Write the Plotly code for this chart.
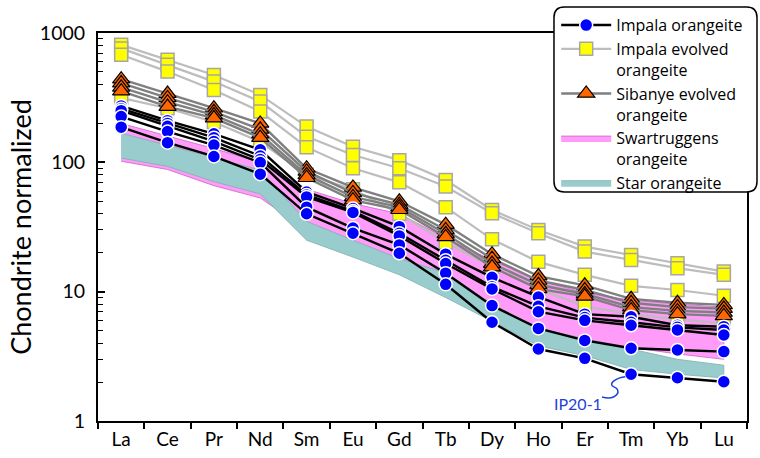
import plotly.graph_objects as go

# Rare earth elements (x axis)
elements = ["La", "Ce", "Pr", "Nd", "Sm", "Eu", "Gd", "Tb", "Dy", "Ho", "Er", "Tm", "Yb", "Lu"]

# Chondrite-normalised REE, Impala orangeite samples
impala_1 = [273, 210, 166, 125, 59, 44, 31.8, 19.5, 12.9, 9.1, 6.7, 6.4, 5.5, 5.36]
impala_2 = [260, 200, 155, 112, 56, 42, 28.3, 17.5, 10.9, 7.7, 6.3, 5.8, 5.3, 5.05]
impala_3 = [251, 190, 145, 105, 54, 41, 27, 16.5, 10.5, 7.0, 6.0, 5.5, 5.06, 4.62]
impala_4 = [226, 173, 136, 99.6, 45, 31, 23, 13.9, 7.8, 5.2, 4.2, 3.65, 3.54, 3.44]
ip20_1 = [187, 142, 111, 81, 40, 28.3, 19.8, 11.4, 5.8, 3.6, 3.05, 2.3, 2.16, 2.01]

# Impala evolved orangeite samples
evolved_1 = [810, 620, 474, 332, 189, 132, 104, 73, 42.8, 30, 22.3, 19.2, 16.6, 14.3]
evolved_2 = [760, 567, 421, 295, 158, 114, 90, 65, 40.4, 28.3, 20.4, 17.6, 15.2, 13.5]
evolved_3 = [680, 503, 363, 247, 131, 90, 70, 45, 25.4, 17, 13.5, 11.1, 10.3, 9.3]
evolved_4 = [315, 262, 205, 144, 80, 62, 40, 24, 15.6, 10.5, 7.7, 6.7, 6.1, 5.7]

# Sibanye evolved orangeite samples
sibanye_1 = [440, 340, 262, 200, 90, 64, 50, 33, 19.5, 13.2, 11.2, 8.8, 8.2, 7.9]
sibanye_2 = [410, 315, 246, 180, 85, 58, 47, 30, 18, 12.2, 10.3, 8.2, 7.6, 7.4]
sibanye_3 = [380, 292, 232, 165, 80, 54, 45, 28, 16.5, 11.3, 9.6, 7.6, 7.1, 6.9]
sibanye_4 = [355, 270, 220, 155, 76, 51, 43, 26.5, 15.5, 10.5, 9.2, 7.2, 6.7, 6.5]

# Compositional fields (upper / lower envelopes)
swart_upper = [200, 160, 128, 100, 62, 48, 40, 26, 17.5, 12.3, 9.8, 8.6, 8.0, 7.6]
swart_lower = [102, 88, 66, 53, 30, 22, 16, 11, 6.8, 5.2, 4.3, 3.7, 3.3, 3.0]
star_upper = [168, 136, 109, 87, 35, 25, 18, 14, 8.0, 5.2, 4.3, 3.6, 3.0, 2.7]
star_lower = [108, 93, 71, 57, 25, 18.5, 13.5, 9.0, 5.9, 3.8, 3.2, 2.5, 2.3, 2.15]

y_ticks = [1, 10, 100, 1000]
y_minor = [m * d for d in (1, 10, 100) for m in range(2, 10)]

FONT = "Lato"
fig = go.Figure()


def band(name, upper, lower, fill, edge, rank):
    fig.add_trace(go.Scatter(
        x=elements + elements[::-1], y=upper + lower[::-1],
        mode="lines", fill="toself", fillcolor=fill,
        line=dict(color=edge, width=0.8),
        name=name, legendrank=rank, hoverinfo="skip"))


band("Swartruggens<br>orangeite", swart_upper, swart_lower, "#FF9BF8", "#C865C8", 4)
band("Star orangeite", star_upper, star_lower, "#99CCCC", "#7FAFAF", 5)


def series(samples, name, line_color, lw, marker, rank):
    for i, ys in enumerate(samples):
        fig.add_trace(go.Scatter(
            x=elements, y=ys, mode="lines+markers",
            line=dict(color=line_color, width=lw),
            marker=marker, name=name, legendgroup=name,
            showlegend=(i == 0), legendrank=rank))


series([evolved_1, evolved_2, evolved_3, evolved_4], "Impala evolved<br>orangeite",
       "#BDBDBD", 2.2,
       dict(symbol="square", size=13, color="#FFFF00", line=dict(color="#A6A6A6", width=1.5)), 2)
series([sibanye_1, sibanye_2, sibanye_3, sibanye_4], "Sibanye evolved<br>orangeite",
       "#7F7F7F", 2.4,
       dict(symbol="triangle-up", size=15, color="#FF6600", line=dict(color="#000000", width=1.2)), 3)
series([impala_1, impala_2, impala_3, impala_4, ip20_1], "Impala orangeite",
       "#000000", 2.4,
       dict(symbol="circle", size=13, color="#0000FF", line=dict(color="#FFFFFF", width=1.5)), 1)

# Label for sample IP20-1 with a wavy leader
fig.add_annotation(x=0.7396, y=0.046, xref="paper", yref="paper", text="IP20-1",
                   xanchor="center", yanchor="middle", showarrow=False,
                   font=dict(family=FONT, size=16, color="#1E3FD8"))
fig.add_shape(type="path", xref="paper", yref="paper",
              path="M 0.7766,0.062 C 0.800,0.052 0.808,0.080 0.795,0.088 "
                   "C 0.784,0.096 0.800,0.112 0.8125,0.114",
              line=dict(color="#1E3FD8", width=1.5))

# Rounded legend frame
x0, x1, y0, y1 = 0.7026, 1.0154, 0.590, 1.067
rx, ry = 0.016, 0.027
fig.add_shape(type="path", xref="paper", yref="paper", layer="above",
              path=(f"M {x0+rx},{y1} L {x1-rx},{y1} Q {x1},{y1} {x1},{y1-ry} "
                    f"L {x1},{y0+ry} Q {x1},{y0} {x1-rx},{y0} L {x0+rx},{y0} "
                    f"Q {x0},{y0} {x0},{y0+ry} L {x0},{y1-ry} Q {x0},{y1} {x0+rx},{y1} Z"),
              fillcolor="white", line=dict(color="black", width=1.5))

fig.update_layout(
    width=760, height=458,
    margin=dict(l=98, r=13, t=33, b=37, autoexpand=False),
    paper_bgcolor="white", plot_bgcolor="white",
    font=dict(family=FONT, size=19, color="black"),
    legend=dict(x=0.706, y=1.064, xanchor="left", yanchor="top",
                bgcolor="rgba(0,0,0,0)", borderwidth=0,
                font=dict(family="Open Sans", size=16), valign="top",
                tracegroupgap=0, itemwidth=50),
    showlegend=True,
)
fig.update_xaxes(type="category", range=[-0.5, 13.5], tickson="boundaries",
                 ticks="outside", ticklen=6, tickwidth=1.5, tickcolor="black",
                 showline=True, linecolor="black", linewidth=2, mirror=True,
                 showgrid=False, zeroline=False, automargin=False, tickfont=dict(size=19))
fig.update_yaxes(type="log", range=[0, 3], tickvals=y_ticks, ticktext=[str(v) for v in y_ticks],
                 ticks="inside", ticklen=7, tickwidth=1.5, tickcolor="black",
                 minor=dict(tickvals=y_minor, ticks="inside", ticklen=5, tickcolor="black", tickwidth=1.2),
                 showline=True, linecolor="black", linewidth=2, mirror=True,
                 showgrid=False, zeroline=False, automargin=False, ticklabelstandoff=7,
                 title=dict(text="Chondrite normalized", font=dict(size=27), standoff=0),
                 tickfont=dict(size=19.5))

fig.write_html("out.html")
